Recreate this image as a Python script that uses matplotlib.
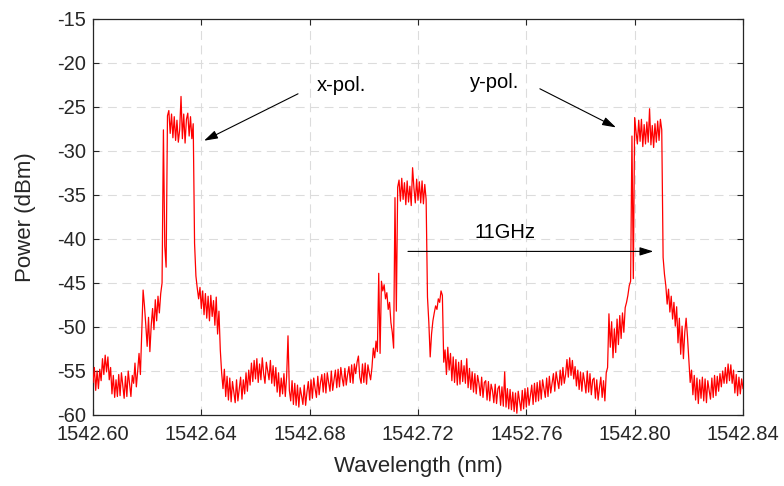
import numpy as np
import matplotlib
matplotlib.use("Agg")
import matplotlib.pyplot as plt

plt.rcParams['font.family'] = ['Liberation Sans', 'DejaVu Sans']
plt.rcParams['axes.unicode_minus'] = False

# ---- data (OSA trace, 0.0005 nm sampling) ----
wl_start, wl_stop = 1542.60, 1542.84
power_dbm = [
    -56.3, -54.6, -57.2, -55.0, -57.0, -54.8, -56.1, -53.6, -55.4, -53.2,
    -55.1, -53.4, -56.0, -54.6, -57.6, -55.5, -58.0, -56.0, -57.9, -55.4,
    -57.8, -55.2, -56.6, -58.1, -55.6, -57.9, -55.0, -56.4, -57.9, -55.5,
    -56.4, -54.1, -56.8, -55.0, -53.0, -55.4, -50.5, -45.8, -47.6, -49.8,
    -52.2, -48.9, -52.8, -49.8, -47.9, -50.3, -46.9, -49.3, -46.5, -48.4,
    -46.2, -45.0, -27.6, -40.8, -43.2, -26.0, -25.4, -28.0, -25.8, -28.5,
    -26.1, -28.8, -26.5, -29.0, -27.6, -23.8, -28.6, -25.8, -29.1, -26.4,
    -25.7, -28.3, -26.1, -28.6, -26.9, -40.5, -44.2, -45.6, -46.8, -45.5,
    -47.9, -45.9, -48.6, -46.2, -49.0, -46.5, -49.3, -46.4, -48.8, -47.0,
    -49.8, -46.6, -50.8, -48.2, -52.6, -55.2, -57.0, -54.8, -57.9, -55.6,
    -58.3, -55.8, -58.5, -56.2, -57.4, -58.6, -56.0, -58.4, -57.0, -55.7,
    -58.2, -56.0, -57.6, -55.2, -57.3, -54.9, -56.6, -54.1, -56.2, -53.8,
    -55.9, -53.6, -56.3, -54.2, -56.0, -53.5, -55.3, -56.4, -54.0, -55.0,
    -56.0, -53.8, -56.4, -54.4, -56.7, -54.6, -57.4, -55.2, -57.9, -55.8,
    -57.6, -55.3, -57.9, -55.6, -51.0, -57.2, -58.4, -56.1, -58.8, -56.4,
    -58.9, -56.6, -59.1, -56.9, -57.8, -58.8, -56.6, -58.9, -57.4, -56.2,
    -58.3, -56.0, -58.1, -55.8, -57.0, -58.0, -55.6, -57.7, -56.3, -55.4,
    -57.4, -55.3, -57.5, -55.2, -56.3, -57.3, -55.0, -57.2, -56.0, -54.9,
    -56.9, -54.8, -56.8, -54.6, -55.8, -56.7, -54.7, -56.6, -55.4, -54.5,
    -56.3, -54.3, -56.4, -54.2, -55.3, -54.0, -53.3, -55.7, -56.4, -54.2,
    -56.3, -54.1, -56.5, -54.3, -55.2, -56.0, -54.6, -52.4, -53.5, -51.6,
    -52.8, -43.9, -53.0, -44.8, -45.9, -45.2, -46.8, -46.1, -48.0, -47.2,
    -49.5, -50.6, -52.4, -35.3, -48.2, -34.1, -33.3, -35.7, -33.1, -35.5,
    -33.6, -36.1, -33.4, -35.8, -34.0, -36.2, -31.9, -34.2, -35.9, -33.2,
    -35.6, -33.5, -35.9, -33.4, -36.0, -33.8, -35.5, -46.6, -49.5, -53.4,
    -50.8, -49.3, -48.4, -47.6, -48.0, -46.8, -47.2, -45.9, -46.4, -54.0,
    -52.6, -55.4, -52.3, -54.9, -53.0, -56.1, -53.4, -56.3, -53.7, -56.6,
    -54.0, -56.5, -53.8, -56.2, -54.4, -56.4, -53.6, -56.9, -54.7, -57.1,
    -55.1, -57.4, -55.3, -57.6, -55.5, -56.4, -57.8, -55.7, -58.0, -56.3,
    -56.1, -58.3, -56.2, -58.4, -56.5, -57.2, -58.6, -56.5, -58.7, -57.0,
    -56.7, -58.9, -56.8, -59.0, -55.1, -59.1, -57.0, -59.3, -57.1, -59.4,
    -57.4, -59.6, -57.5, -59.8, -57.3, -58.4, -59.5, -57.2, -59.3, -57.0,
    -59.1, -56.9, -58.9, -57.8, -56.6, -58.8, -56.4, -58.5, -56.3, -58.4,
    -56.1, -58.2, -56.0, -57.0, -58.0, -55.8, -57.9, -55.6, -57.5, -56.4,
    -55.3, -57.3, -55.1, -56.1, -57.0, -54.9, -56.6, -54.6, -56.4, -55.4,
    -53.7, -55.7, -53.5, -55.5, -53.8, -55.9, -54.5, -56.7, -54.9, -57.1,
    -55.1, -57.3, -55.2, -56.2, -57.5, -55.0, -57.4, -55.3, -57.7, -56.0,
    -55.8, -58.1, -56.0, -58.3, -56.9, -55.7, -58.0, -56.1, -58.4, -55.2,
    -54.6, -48.5, -52.3, -49.4, -53.5, -50.2, -52.9, -49.1, -52.0, -48.7,
    -51.3, -48.4, -50.6, -47.8, -47.2, -46.4, -45.3, -44.8, -28.3, -44.5,
    -26.2, -27.8, -29.2, -26.5, -28.9, -26.4, -29.5, -27.0, -29.2, -26.7,
    -29.0, -25.2, -29.3, -27.1, -29.6, -26.9, -29.0, -26.6, -28.8, -26.4,
    -27.6, -42.1, -44.0, -45.3, -47.4, -45.7, -48.3, -46.5, -49.1, -47.2,
    -49.9, -47.7, -51.8, -49.0, -53.1, -49.9, -53.6, -50.6, -49.0, -51.1,
    -53.8, -56.3, -54.9, -57.7, -55.5, -58.3, -55.8, -58.7, -56.0, -58.1,
    -55.7, -58.4, -55.9, -58.6, -56.1, -57.2, -58.2, -55.8, -58.0, -55.5,
    -57.8, -55.6, -57.3, -55.3, -56.8, -55.0, -56.4, -54.6, -56.4, -54.2,
    -56.1, -54.3, -56.4, -54.9, -57.5, -55.4, -57.8, -55.7, -57.6, -55.9, -57.0,
]
wavelength_nm = np.linspace(wl_start, wl_stop, len(power_dbm))

x_ticks = [1542.60, 1542.64, 1542.68, 1542.72, 1542.76, 1542.80, 1542.84]
x_tick_labels = ["1542.60", "1542.64", "1542.68", "1542.72", "1452.76", "1542.80", "1542.84"]
y_ticks = [-60, -55, -50, -45, -40, -35, -30, -25, -20, -15]

# ---- figure ----
fig = plt.figure(figsize=(7.84, 4.86), dpi=100)
ax = fig.add_axes([93/784, 71/486, 650/784, 396/486])

ax.plot(wavelength_nm, power_dbm, color='#ff0000', lw=0.9, zorder=3)

ax.set_xlim(wl_start, wl_stop)
ax.set_ylim(-60, -15)
ax.set_xticks(x_ticks)
ax.set_xticklabels(x_tick_labels)
ax.set_yticks(y_ticks)

axis_col = '#262626'
ax.grid(True, color='#dcdcdc', linestyle=(0, (8, 5)), lw=0.8, zorder=0)
for s in ax.spines.values():
    s.set_color(axis_col)
    s.set_linewidth(0.9)
ax.tick_params(axis='both', direction='in', length=4, width=0.8, colors=axis_col,
               labelsize=14.5, top=True, right=True)
ax.tick_params(axis='x', pad=7)
ax.tick_params(axis='y', pad=5)

ax.set_xlabel("Wavelength (nm)", fontsize=16, color=axis_col, va='center')
ax.xaxis.set_label_coords(0.5, -0.131)
ax.set_ylabel("Power (dBm)", fontsize=16, color=axis_col, va='center')
ax.yaxis.set_label_coords(-0.1046, 0.5)

# ---- annotations ----
arrow_kw = dict(arrowstyle='-|>,head_length=0.55,head_width=0.17', color='black',
                lw=0.8, mutation_scale=15, shrinkA=0, shrinkB=0)
ax.annotate("", xy=(1542.6410, -28.83), xytext=(1542.6757, -23.5), arrowprops=arrow_kw, zorder=5)
ax.annotate("", xy=(1542.7931, -27.32), xytext=(1542.7650, -22.93), arrowprops=arrow_kw, zorder=5)
ax.annotate("", xy=(1542.8069, -41.41), xytext=(1542.7163, -41.41), arrowprops=arrow_kw, zorder=5)

ax.text(1542.6827, -23.16, "x-pol.", fontsize=14.5, ha='left', va='baseline', color='black')
ax.text(1542.7392, -22.8, "y-pol.", fontsize=14.5, ha='left', va='baseline', color='black')
ax.text(1542.7410, -39.94, "11GHz", fontsize=14.5, ha='left', va='baseline', color='black')

fig.savefig("out.png", dpi=100)
